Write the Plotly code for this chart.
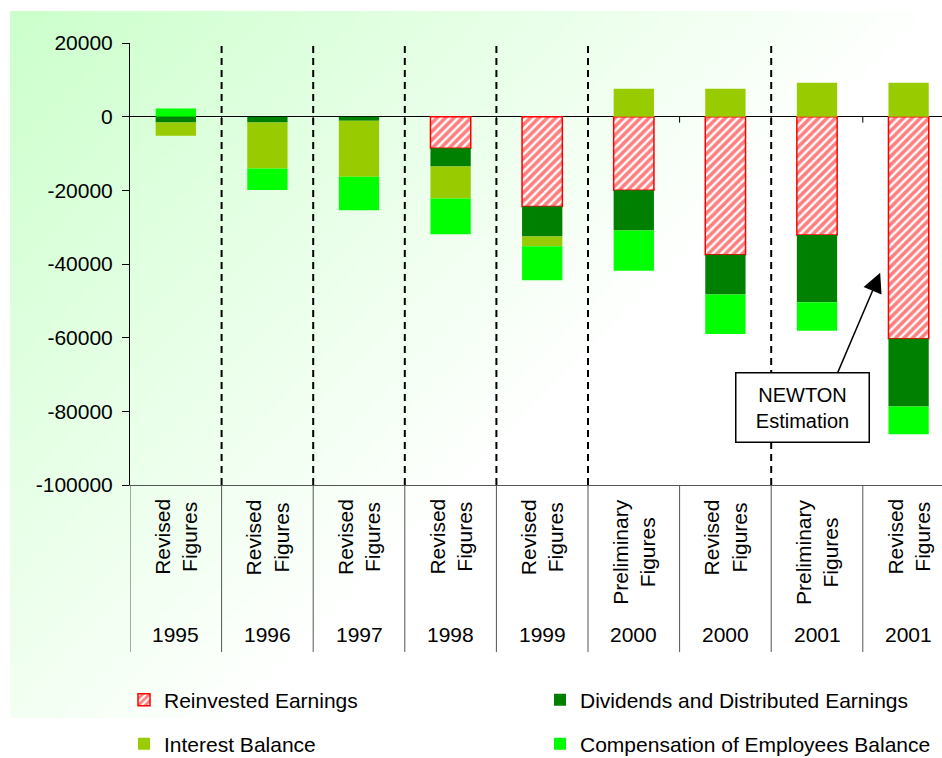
import base64
import struct
import zlib
import plotly.graph_objects as go

# ---------------- data ----------------
years = ["1995", "1996", "1997", "1998", "1999", "2000", "2000", "2001", "2001"]
figure_types = ["Revised Figures", "Revised Figures", "Revised Figures", "Revised Figures",
                "Revised Figures", "Preliminary Figures", "Revised Figures",
                "Preliminary Figures", "Revised Figures"]
reinvested = [None, None, None, -8600, -24400, -20000, -37500, -32100, -60300]
dividends = [-1600, -1600, -1100, -4900, -8100, -10900, -10800, -18300, -18400]
interest = [-3600, -12500, -15200, -8700, -2700, 7600, 7600, 9200, 9200]
compensation = [2200, -5800, -9100, -9700, -9200, -10900, -10700, -7700, -7500]
y_ticks = [20000, 0, -20000, -40000, -60000, -80000, -100000]
series_names = ["Reinvested Earnings", "Dividends and Distributed Earnings",
                "Interest Balance", "Compensation of Employees Balance"]

# ---------------- layout helpers ----------------
W, H = 942, 758
ML, MR, MT, MB = 130, 0, 43, 273
PW, PH = W - ML - MR, H - MT - MB
FONT = "Liberation Sans, Arial, sans-serif"


def py2paper(py):
    return (H - MB - py) / PH


def px2paper(px):
    return (px - ML) / PW


def gradient_png(w=120, h=90):
    raw = bytearray()
    for j in range(h):
        raw.append(0)
        v = j / (h - 1)
        for i in range(w):
            u = i / (w - 1)
            f = max(0.0, min(1.0, 1 - 1.0 * u - 0.75 * v))
            g = int(round(255 - 51 * f))
            raw += bytes([g, 255, g])

    def chunk(tag, data):
        c = struct.pack(">I", len(data)) + tag + data
        return c + struct.pack(">I", zlib.crc32(tag + data) & 0xffffffff)

    png = (b"\x89PNG\r\n\x1a\n"
           + chunk(b"IHDR", struct.pack(">IIBBBBB", w, h, 8, 2, 0, 0, 0))
           + chunk(b"IDAT", zlib.compress(bytes(raw)))
           + chunk(b"IEND", b""))
    return "data:image/png;base64," + base64.b64encode(png).decode()


xs = list(range(len(years)))
n = len(years)
cat_w = 91.6
x_max = -0.5 + PW / cat_w

fig = go.Figure()
fig.add_trace(go.Bar(
    x=xs, y=reinvested, name=series_names[0], width=0.44, legend="legend", showlegend=True,
    marker=dict(color="white", line=dict(color="#ff0000", width=1.5),
                pattern=dict(shape="/", fgcolor="#ff0000", bgcolor="white",
                             size=6, solidity=0.6))))
fig.add_trace(go.Bar(
    x=xs, y=dividends, name=series_names[1], width=0.44, legend="legend2", showlegend=True,
    marker=dict(color="#008000", line=dict(width=0))))
fig.add_trace(go.Bar(
    x=xs, y=interest, name=series_names[2], width=0.44, legend="legend3", showlegend=True,
    marker=dict(color="#99cc00", line=dict(width=0))))
fig.add_trace(go.Bar(
    x=xs, y=compensation, name=series_names[3], width=0.44, legend="legend4", showlegend=True,
    marker=dict(color="#00ff00", line=dict(width=0))))

shapes = []
# dashed separators between different years
for i in range(n - 1):
    if years[i] != years[i + 1]:
        shapes.append(dict(type="line", xref="x", yref="paper", x0=i + 0.5, x1=i + 0.5,
                           y0=0, y1=1, line=dict(color="black", width=2, dash="7px,5px")))
# category table lines
for k in range(n + 1):
    shapes.append(dict(type="line", xref="x", yref="paper", x0=k - 0.5, x1=k - 0.5,
                       y0=0, y1=py2paper(652), line=dict(color="#555555", width=1)))
# small ticks on the zero line
for k in range(1, n + 1):
    shapes.append(dict(type="line", xref="x", yref="y", ysizemode="pixel", yanchor=0,
                       x0=k - 0.5, x1=k - 0.5, y0=0, y1=-6,
                       line=dict(color="black", width=1)))

annotations = []
for i, lab in enumerate(figure_types):
    annotations.append(dict(x=i, xref="x", y=py2paper(497), yref="paper",
                            text=lab.replace(" ", "<br>"), textangle=-90,
                            xanchor="center", yanchor="top", showarrow=False,
                            align="center", font=dict(size=21, color="black", family=FONT)))
for i, yr in enumerate(years):
    annotations.append(dict(x=i, xref="x", y=py2paper(634), yref="paper", text=yr,
                            xanchor="center", yanchor="middle", showarrow=False,
                            font=dict(size=21, color="black", family=FONT)))
# arrow then box (box drawn on top)
annotations.append(dict(x=7.69, y=-42400, xref="x", yref="y", text="", showarrow=True,
                        ax=-52, ay=122, arrowhead=2, arrowsize=2.6, arrowwidth=1.5,
                        arrowcolor="black"))
annotations.append(dict(x=6.847, y=-78930, xref="x", yref="y", text="NEWTON<br>Estimation",
                        showarrow=False, bgcolor="white", bordercolor="black",
                        borderwidth=1.5, width=128, height=64, borderpad=2,
                        font=dict(size=20, color="black", family=FONT)))

legend_common = dict(orientation="h", bgcolor="rgba(0,0,0,0)", xanchor="left",
                     yanchor="middle", font=dict(size=21, color="black", family=FONT))
fig.update_layout(
    width=W, height=H,
    margin=dict(l=ML, r=MR, t=MT, b=MB, pad=0, autoexpand=False),
    paper_bgcolor="white",
    plot_bgcolor="rgba(0,0,0,0)",
    barmode="relative",
    showlegend=True,
    font=dict(family=FONT, size=21, color="black"),
    xaxis=dict(range=[-0.5, x_max], showticklabels=False, ticks="", showgrid=False,
               zeroline=False, showline=True, linecolor="#555555", linewidth=1,
               fixedrange=True),
    yaxis=dict(range=[-100000, 20000], tickmode="array", tickvals=y_ticks,
               ticktext=[str(v) for v in y_ticks], ticks="outside", ticklen=7,
               tickcolor="black", ticklabelstandoff=5, showgrid=False,
               zeroline=True, zerolinecolor="black", zerolinewidth=1,
               showline=True, linecolor="black", linewidth=1,
               tickfont=dict(size=21, color="black", family=FONT)),
    shapes=shapes,
    annotations=annotations,
    legend=dict(x=px2paper(124), y=py2paper(700), **legend_common),
    legend2=dict(x=px2paper(540), y=py2paper(700), **legend_common),
    legend3=dict(x=px2paper(124), y=py2paper(744), **legend_common),
    legend4=dict(x=px2paper(540), y=py2paper(744), **legend_common),
    images=[dict(source=gradient_png(), xref="paper", yref="paper",
                 x=px2paper(10), y=py2paper(11), sizex=(W - 10) / PW,
                 sizey=(718 - 11) / PH, xanchor="left", yanchor="top",
                 sizing="stretch", layer="below")],
)

fig.write_html("out.html")
